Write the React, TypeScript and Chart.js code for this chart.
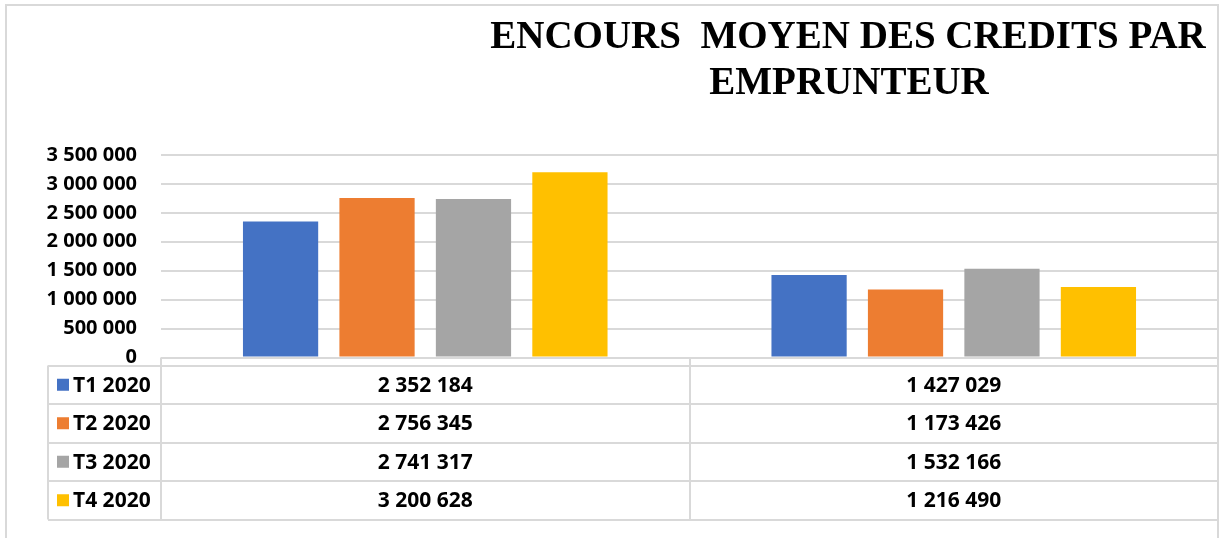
import React, { useEffect, useRef } from "react";
import { Chart, registerables } from "chart.js";

Chart.register(...registerables);

const TITLE_LINES = ["ENCOURS  MOYEN DES CREDITS PAR", "EMPRUNTEUR"];
const categories = ["Catégorie A", "Catégorie B"];
const seriesNames = ["T1 2020", "T2 2020", "T3 2020", "T4 2020"];
const t1Values = [2352184, 1427029];
const t2Values = [2756345, 1173426];
const t3Values = [2741317, 1532166];
const t4Values = [3200628, 1216490];
const seriesColors = ["#4472C4", "#ED7D31", "#A5A5A5", "#FFC000"];
const yMax = 3500000;
const yStep = 500000;

const seriesValues = [t1Values, t2Values, t3Values, t4Values];

const fmt = (v: number) =>
  Math.round(v)
    .toString()
    .replace(/\B(?=(\d{3})+(?!\d))/g, " ");

const GRID = "#d9d9d9";

const tablePlugin = {
  id: "excelTable",
  afterDraw(chart: any) {
    const ctx = chart.ctx as CanvasRenderingContext2D;
    const area = chart.chartArea;
    const xs = chart.scales.x;
    const n = categories.length;
    const catW = (area.right - area.left) / n;
    const centers = categories.map((_, i) => xs.getPixelForValue(i));
    const bounds = [area.left, ...centers.map((c: number) => c + catW / 2)];

    ctx.save();
    // outer frame
    ctx.strokeStyle = GRID;
    ctx.lineWidth = 2;
    ctx.strokeRect(6, 5, 1212, 600);

    // title
    ctx.fillStyle = "#000";
    ctx.font = "bold 39px 'Liberation Serif'";
    ctx.textAlign = "center";
    ctx.textBaseline = "alphabetic";
    ctx.fillText(TITLE_LINES[0], 848, 48);
    ctx.fillText(TITLE_LINES[1], 849, 94);

    // data table
    const top = area.bottom + 8;
    const rowH = 38.5;
    const rows = seriesNames.length;
    const bottom = top + rows * rowH;
    const tableLeft = 48;

    ctx.strokeStyle = GRID;
    ctx.lineWidth = 2;
    ctx.beginPath();
    for (let r = 0; r <= rows; r++) {
      const y = Math.round(top + r * rowH);
      ctx.moveTo(tableLeft, y);
      ctx.lineTo(area.right, y);
    }
    ctx.moveTo(tableLeft, top);
    ctx.lineTo(tableLeft, bottom);
    bounds.forEach((b: number) => {
      ctx.moveTo(Math.round(b), area.bottom);
      ctx.lineTo(Math.round(b), bottom);
    });
    ctx.stroke();

    ctx.font = "bold 21px 'Open Sans'";
    ctx.textBaseline = "middle";
    seriesNames.forEach((name, r) => {
      const cy = top + r * rowH + rowH / 2;
      ctx.fillStyle = seriesColors[r];
      ctx.fillRect(57, cy - 6, 12, 12);
      ctx.fillStyle = "#000";
      ctx.textAlign = "left";
      ctx.fillText(name, 73, cy + 1);
      ctx.textAlign = "center";
      seriesValues[r].forEach((v, i) => {
        ctx.fillText(fmt(v), centers[i], cy + 1);
      });
    });
    ctx.restore();
  },
};

export default function App() {
  const ref = useRef<HTMLCanvasElement | null>(null);

  useEffect(() => {
    if (!ref.current) return;
    const chart = new Chart(ref.current, {
      type: "bar",
      data: {
        labels: categories,
        datasets: seriesNames.map((name, i) => ({
          label: name,
          data: seriesValues[i],
          backgroundColor: seriesColors[i],
          borderWidth: 0,
          barPercentage: 0.78,
          categoryPercentage: 0.73,
        })),
      },
      options: {
        responsive: false,
        animation: false,
        devicePixelRatio: 1,
        layout: { padding: { top: 155, bottom: 180.5, left: 0, right: 2 } },
        plugins: {
          legend: { display: false },
          title: { display: false },
          tooltip: { enabled: false },
        },
        scales: {
          x: { display: false },
          y: {
            min: 0,
            max: yMax,
            ticks: {
              stepSize: yStep,
              padding: 24,
              color: "#000",
              font: { family: "'Open Sans'", weight: "bold", size: 20 },
              callback: (v: any) => fmt(Number(v)),
            },
            grid: { color: GRID, lineWidth: 2, drawTicks: false },
            border: { display: false },
            afterFit: (s: any) => {
              s.width = 161;
              s.paddingTop = 0;
              s.paddingBottom = 0;
            },
          },
        },
      },
      plugins: [tablePlugin],
    });
    return () => chart.destroy();
  }, []);

  return (
    <div style={{ position: "fixed", left: 0, top: 0, width: 1220, height: 538, background: "#fff" }}>
      <canvas ref={ref} width={1220} height={538} />
    </div>
  );
}
